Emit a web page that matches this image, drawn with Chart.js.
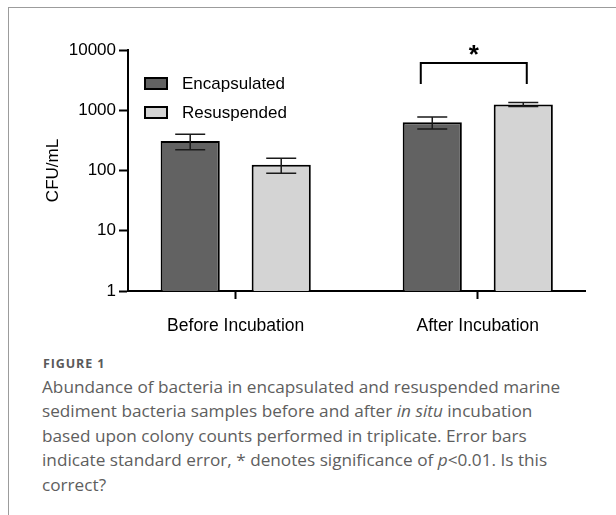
<!DOCTYPE html>
<html><head><meta charset="utf-8">
<script src="https://cdn.jsdelivr.net/npm/chart.js@4"></script>
<style>
html,body{margin:0;padding:0;background:#fff;}
#wrap{position:relative;width:616px;height:515px;overflow:hidden;}
#frame{position:absolute;left:8px;top:7px;width:640px;height:540px;border-top:1px solid #9c9c9c;border-left:1px solid #9c9c9c;}
#c{position:absolute;left:0;top:0;}
#fig{position:absolute;left:43px;top:355px;font-family:'Open Sans';font-weight:700;font-size:12.5px;letter-spacing:0.9px;line-height:normal;color:#5a5a5a;}
#cap{position:absolute;left:42px;top:375px;font-family:'Open Sans';font-size:17.2px;line-height:24.4px;color:#5e5e5e;white-space:nowrap;}
</style></head>
<body><div id="wrap"><div id="frame"></div><canvas id="c" width="616" height="345" style="width:616px;height:345px"></canvas>
<div id="fig">FIGURE 1</div>
<div id="cap">Abundance of bacteria in encapsulated and resuspended marine<br>sediment bacteria samples before and after <i>in situ</i> incubation<br>based upon colony counts performed in triplicate. Error bars<br>indicate standard error, * denotes significance of <i>p</i>&lt;0.01. Is this<br>correct?</div></div>
<script>
const categories = ['Before Incubation', 'After Incubation'];
const seriesNames = ['Encapsulated', 'Resuspended'];
const encapsulated = [310, 630];
const resuspended = [125, 1250];
const encapsulatedSE = [90, 140];
const resuspendedSE = [35, 100];
const yTicks = [1, 10, 100, 1000, 10000];
const significance = '*';

const FONT = 'Liberation Sans';

const errorBars = {id:'errorBars', afterDatasetsDraw(chart){
  const ctx = chart.ctx, y = chart.scales.y;
  chart.data.datasets.forEach((ds, di) => {
    const meta = chart.getDatasetMeta(di);
    meta.data.forEach((bar, i) => {
      const v = ds.data[i].y, e = ds.se[i];
      const x = bar.x, yt = y.getPixelForValue(v + e), yb = y.getPixelForValue(v - e);
      const hw = 15;
      ctx.save(); ctx.strokeStyle = '#1a1a1a'; ctx.lineWidth = 1.5;
      ctx.beginPath();
      ctx.moveTo(x, yt); ctx.lineTo(x, yb);
      ctx.moveTo(x - hw, yt); ctx.lineTo(x + hw, yt);
      ctx.moveTo(x - hw, yb); ctx.lineTo(x + hw, yb);
      ctx.stroke(); ctx.restore();
    });
  });
}};

const legendP = {id:'legendP', afterDraw(chart){
  const ctx = chart.ctx, a = chart.chartArea;
  chart.data.datasets.forEach((ds, i) => {
    const bx = a.left + 17, by = a.top + 28 + i * 29;
    ctx.save();
    ctx.fillStyle = ds.backgroundColor; ctx.fillRect(bx, by, 22, 11);
    ctx.strokeStyle = '#000'; ctx.lineWidth = 2; ctx.strokeRect(bx, by, 22, 11);
    ctx.fillStyle = '#000'; ctx.font = '17px "' + FONT + '"'; ctx.textBaseline = 'middle';
    ctx.fillText(ds.label, bx + 37, by + 6);
    ctx.restore();
  });
}};

const bracketP = {id:'bracketP', afterDraw(chart){
  const ctx = chart.ctx, xs = chart.scales.x;
  const cx = xs.getPixelForValue(1);
  const l = cx - 57, r = cx + 49, top = 63, bot = 84;
  ctx.save();
  ctx.strokeStyle = '#000'; ctx.lineWidth = 2;
  ctx.beginPath(); ctx.moveTo(l, bot); ctx.lineTo(l, top); ctx.lineTo(r, top); ctx.lineTo(r, bot); ctx.stroke();
  ctx.fillStyle = '#000'; ctx.font = 'bold 26px "' + FONT + '"'; ctx.textAlign = 'center'; ctx.textBaseline = 'alphabetic';
  ctx.fillText(significance, (l + r) / 2, 63);
  ctx.restore();
}};

new Chart(document.getElementById('c'), {
  type: 'bar',
  data: {
    datasets: [
      {label: seriesNames[0], data: categories.map((c, i) => ({x: i, y: encapsulated[i]})), se: encapsulatedSE,
       backgroundColor: '#626262', borderColor: '#000', borderWidth: 2},
      {label: seriesNames[1], data: categories.map((c, i) => ({x: i, y: resuspended[i]})), se: resuspendedSE,
       backgroundColor: '#d4d4d4', borderColor: '#000', borderWidth: 2}
    ]
  },
  options: {
    responsive: false, animation: false,
    categoryPercentage: 0.752, barPercentage: 0.65,
    layout: {padding: {left: 0, right: 31, top: 50, bottom: 0}},
    plugins: {legend: {display: false}, tooltip: {enabled: false}},
    scales: {
      x: {type: 'linear', min: -0.445, max: 1.443, offset: false,
          afterBuildTicks: s => { s.ticks = categories.map((c, i) => ({value: i})); },
          ticks: {callback: v => categories[v], font: {family: FONT, size: 17.5}, color: '#000', padding: 17, maxRotation: 0, autoSkip: false},
          grid: {display: true, drawOnChartArea: false, drawTicks: true, tickLength: 8, tickWidth: 2, tickColor: '#000', offset: false},
          border: {display: true, color: '#000', width: 2},
          afterFit: s => { s.height = 54; }},
      y: {type: 'logarithmic', min: 1, max: 10000,
          afterBuildTicks: s => { s.ticks = yTicks.map(v => ({value: v})); },
          ticks: {callback: v => String(v), font: {family: FONT, size: 17}, color: '#000', padding: 3},
          grid: {drawOnChartArea: false, drawTicks: true, tickLength: 9, tickWidth: 2, tickColor: '#000'},
          border: {display: true, color: '#000', width: 2},
          title: {display: true, text: 'CFU/mL', font: {family: FONT, size: 17}, color: '#000', padding: {top: 43, bottom: 0}},
          afterFit: s => { s.width = 128; }}
    }
  },
  plugins: [errorBars, legendP, bracketP]
});
</script></body></html>
